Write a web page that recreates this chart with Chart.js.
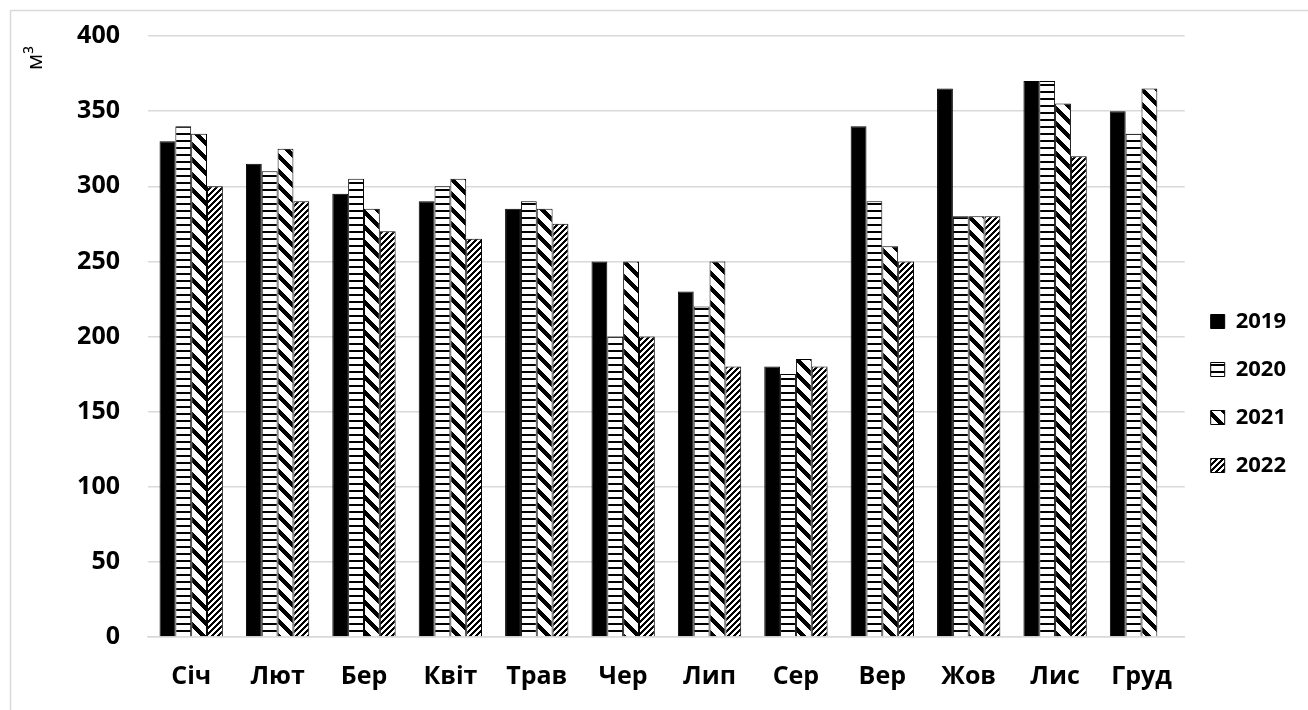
<!DOCTYPE html>
<html>
<head>
<meta charset="utf-8">
<script src="https://cdn.jsdelivr.net/npm/chart.js@4"></script>
<style>
  html, body { margin: 0; padding: 0; background: #fff; }
  #wrap { position: relative; width: 1308px; height: 710px; }
</style>
</head>
<body>
<div id="wrap"><canvas id="chart" width="1308" height="710"></canvas></div>
<script>
const months = ["Січ", "Лют", "Бер", "Квіт", "Трав", "Чер", "Лип", "Сер", "Вер", "Жов", "Лис", "Груд"];
const years = ["2019", "2020", "2021", "2022"];
const values2019 = [330, 315, 295, 290, 285, 250, 230, 180, 340, 365, 370, 350];
const values2020 = [340, 310, 305, 300, 290, 200, 220, 175, 290, 280, 370, 335];
const values2021 = [335, 325, 285, 305, 285, 250, 250, 185, 260, 280, 355, 365];
const values2022 = [300, 290, 270, 265, 275, 200, 180, 180, 250, 280, 320, null];
const yTicks = [0, 50, 100, 150, 200, 250, 300, 350, 400];
const unitLabel = "м³";

const canvas = document.getElementById("chart");
const ctx = canvas.getContext("2d");

// small tiles for the Excel-like fill patterns
function makePattern(size, draw) {
  const tile = document.createElement("canvas");
  tile.width = size;
  tile.height = size;
  const g = tile.getContext("2d");
  g.fillStyle = "#fff";
  g.fillRect(0, 0, size, size);
  g.fillStyle = "#000";
  draw(g, size);
  return ctx.createPattern(tile, "repeat");
}

const horizontal = makePattern(7, (g, s) => g.fillRect(0, 0, s, 2));
const wideDown = makePattern(15, (g, s) => {
  for (let y = 0; y < s; y++)
    for (let k = 0; k < 6; k++) g.fillRect((y + k) % s, y, 1, 1);
});
const narrowUp = makePattern(6, (g, s) => {
  for (let y = 0; y < s; y++)
    for (let k = 0; k < 3; k++) g.fillRect((((k - y) % s) + s) % s, y, 1, 1);
});

const fills = ["#000", horizontal, wideDown, narrowUp];
const series = [values2019, values2020, values2021, values2022];

// light frame round the whole chart, plus the rotated unit label near the top of the y axis
const frameAndUnit = {
  id: "frameAndUnit",
  beforeDraw(chart) {
    const c = chart.ctx;
    c.save();
    c.strokeStyle = "#d9d9d9";
    c.lineWidth = 1.5;
    c.strokeRect(10.5, 10.5, 1400, 1400);
    c.restore();
  },
  afterDraw(chart) {
    const c = chart.ctx;
    c.save();
    c.translate(36, 58);
    c.rotate(-Math.PI / 2);
    c.font = "22px 'Open Sans', sans-serif";
    c.fillStyle = "#000";
    c.textAlign = "center";
    c.textBaseline = "middle";
    c.fillText(unitLabel, 0, 0);
    c.restore();
  }
};

Chart.defaults.font.family = "'Open Sans', sans-serif";
Chart.defaults.color = "#000";

new Chart(canvas, {
  type: "bar",
  data: {
    labels: months,
    datasets: years.map((y, i) => ({
      label: y,
      data: series[i],
      backgroundColor: fills[i],
      borderColor: "#000",
      borderWidth: 1,
      categoryPercentage: 0.733,
      barPercentage: 1.0
    }))
  },
  options: {
    responsive: false,
    animation: false,
    layout: { padding: { top: 36, bottom: 0, left: 0, right: 12 } },
    scales: {
      y: {
        min: 0,
        max: 400,
        afterBuildTicks: (scale) => { scale.ticks = yTicks.map(v => ({ value: v })); },
        afterFit: (scale) => {
          scale.width = 148;
          scale.paddingTop = 0;
          scale.paddingBottom = 0;
        },
        grid: { color: "#d9d9d9", lineWidth: 1.5, drawTicks: false },
        border: { display: false },
        ticks: { padding: 28, font: { size: 25, weight: "bold" } }
      },
      x: {
        afterFit: (scale) => { scale.height = 73; },
        grid: { display: false, drawTicks: false },
        border: { color: "#d9d9d9", width: 1.5 },
        ticks: { padding: 25, maxRotation: 0, font: { size: 25, weight: "bold" } }
      }
    },
    plugins: {
      legend: {
        position: "right",
        title: { display: true, text: "\u00a0", font: { size: 10 }, padding: { top: 29, bottom: 0 } },
        labels: {
          boxWidth: 14,
          boxHeight: 14,
          padding: 26,
          font: { size: 22, weight: "bold" }
        }
      },
      tooltip: { enabled: false }
    }
  },
  plugins: [frameAndUnit]
});
</script>
</body>
</html>
